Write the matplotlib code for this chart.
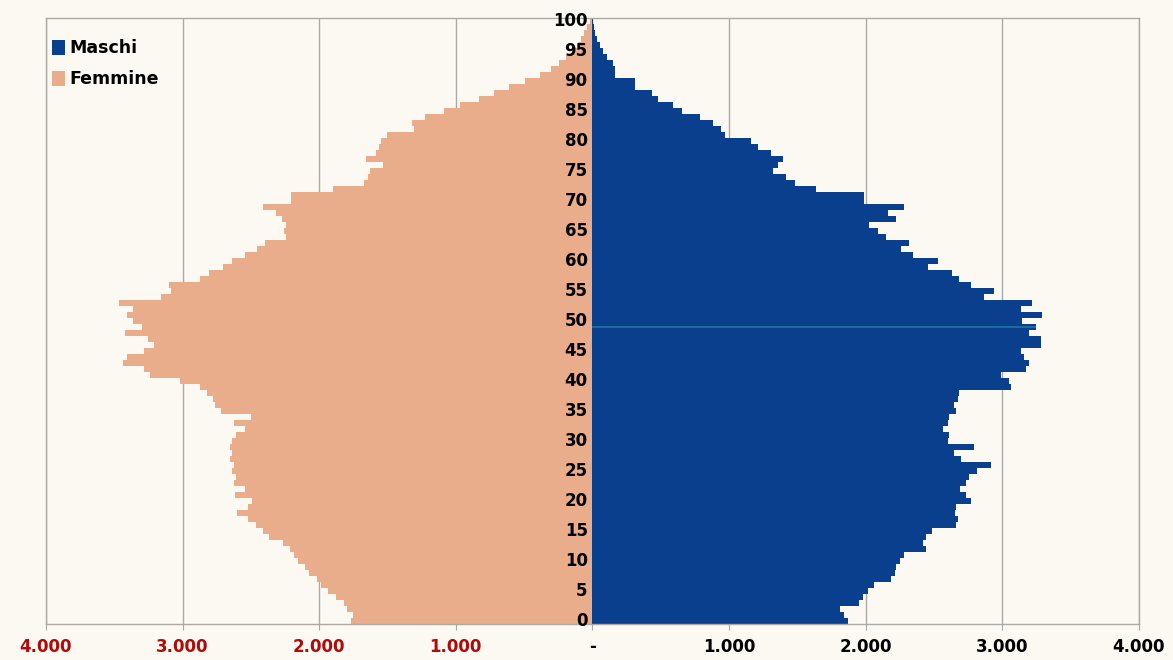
import numpy as np
import matplotlib
import matplotlib.pyplot as plt
from matplotlib.patches import Patch

matplotlib.use("Agg")

plt.rcParams.update({
    "figure.facecolor": "#fbf9f1", "axes.facecolor": "#fbf9f1",
    "font.family": "DejaVu Sans",
})

# age 0 .. 100
AGES = list(range(0, 101))

MASCHI = [
    1869, 1841, 1814, 1951, 1978, 2019, 2060, 2184, 2211, 2225,   # 0-9
    2252, 2280, 2444, 2417, 2444, 2485, 2663, 2677, 2650, 2663,   # 10-19
    2773, 2732, 2691, 2733, 2757, 2818, 2915, 2696, 2647, 2793,   # 20-29
    2599, 2611, 2562, 2599, 2611, 2660, 2647, 2672, 2684, 3061,   # 30-39
    3049, 2988, 3175, 3195, 3158, 3134, 3280, 3280, 3195, 3243,   # 40-49
    3146, 3292, 3134, 3219, 2866, 2939, 2769, 2684, 2635, 2453,   # 50-59
    2526, 2344, 2259, 2320, 2149, 2088, 2027, 2221, 2160, 2283,   # 60-69
    1990, 1990, 1637, 1480, 1419, 1321, 1358, 1394, 1309, 1212,   # 70-79
    1163,  969,  944,  883,  786,  652,  591,  482,  433,  312,   # 80-89
     312,  165,  165,  150,  105,   80,   55,   30,   20,   10,   # 90-99
       5,                                                         # 100
]

FEMMINE = [
    1766, 1752, 1794, 1822, 1878, 1933, 1989, 2017, 2073, 2101,   # 0-9
    2157, 2185, 2212, 2268, 2366, 2408, 2464, 2519, 2603, 2519,   # 10-19
    2491, 2617, 2545, 2624, 2610, 2638, 2624, 2652, 2638, 2652,   # 20-29
    2638, 2610, 2540, 2624, 2498, 2722, 2764, 2778, 2820, 2876,   # 30-39
    3016, 3240, 3280, 3436, 3408, 3282, 3212, 3254, 3422, 3296,   # 40-49
    3366, 3408, 3366, 3464, 3156, 3086, 3100, 2876, 2806, 2708,   # 50-59
    2638, 2540, 2456, 2400, 2246, 2260, 2246, 2274, 2316, 2414,   # 60-69
    2204, 2204, 1900, 1672, 1644, 1630, 1532, 1658, 1588, 1560,   # 70-79
    1546, 1504, 1308, 1322, 1224, 1084,  972,  832,  720,  608,   # 80-89
     496,  384,  300,  244,  193,  146,  104,   81,   62,   42,   # 90-99
      20,                                                         # 100
]

X_TICKS = [-4000, -3000, -2000, -1000, 0, 1000, 2000, 3000, 4000]
X_LABELS = ["4.000", "3.000", "2.000", "1.000", "-", "1.000", "2.000", "3.000", "4.000"]
Y_LABEL_AGES = list(range(0, 101, 5))
STRIPE_AGE = 49   # lighter scan stripe on the male bar

BLUE = "#0a3f8e"
PEACH = "#e9ad8c"
GRID = "#aaaaa6"


def main():
    fig = plt.figure(figsize=(11.73, 6.60), dpi=100)
    ax = fig.add_axes([0.0392, 0.0545, 0.9318, 0.918])

    ages = np.array(AGES)
    males = np.array(MASCHI)
    females = np.array(FEMMINE)

    for x in X_TICKS:
        ax.axvline(x, color=GRID, linewidth=1.0, zorder=0)

    ax.barh(ages, males, height=0.92, color=BLUE, linewidth=0, zorder=2, label="Maschi")
    ax.barh(ages, -females, height=0.92, color=PEACH, linewidth=0, zorder=2, label="Femmine")
    ax.barh(STRIPE_AGE, males[STRIPE_AGE], height=0.45, color="#1b6b9d", linewidth=0, zorder=3)

    ax.set_xlim(-4000, 4000)
    ax.set_ylim(-0.5, 100.5)

    # age labels sit on the centre line
    for a in Y_LABEL_AGES:
        ax.text(-35, a, str(a), ha="right", va="center", fontsize=12,
                fontweight="bold", color="black", zorder=4)

    ax.set_yticks([])
    ax.set_xticks(X_TICKS)
    ax.set_xticklabels(X_LABELS, fontsize=12, fontweight="bold")
    for lbl, x in zip(ax.get_xticklabels(), X_TICKS):
        lbl.set_color("#b00a0a" if x < 0 else "black")
    ax.tick_params(axis="x", length=4, color=GRID, pad=6)

    for side in ["top", "bottom", "left", "right"]:
        ax.spines[side].set_color(GRID)
        ax.spines[side].set_linewidth(1.0)

    handles = [Patch(facecolor=BLUE, label="Maschi"), Patch(facecolor=PEACH, label="Femmine")]
    ax.legend(handles=handles, loc="upper left", bbox_to_anchor=(-0.006, 0.985),
              frameon=False, handlelength=0.75, handleheight=0.95, handletextpad=0.25,
              labelspacing=0.75, borderaxespad=0.3,
              prop={"weight": "bold", "size": 12.5})

    fig.savefig("out.png", dpi=100, facecolor=fig.get_facecolor())
    plt.close(fig)


if __name__ == "__main__":
    main()
